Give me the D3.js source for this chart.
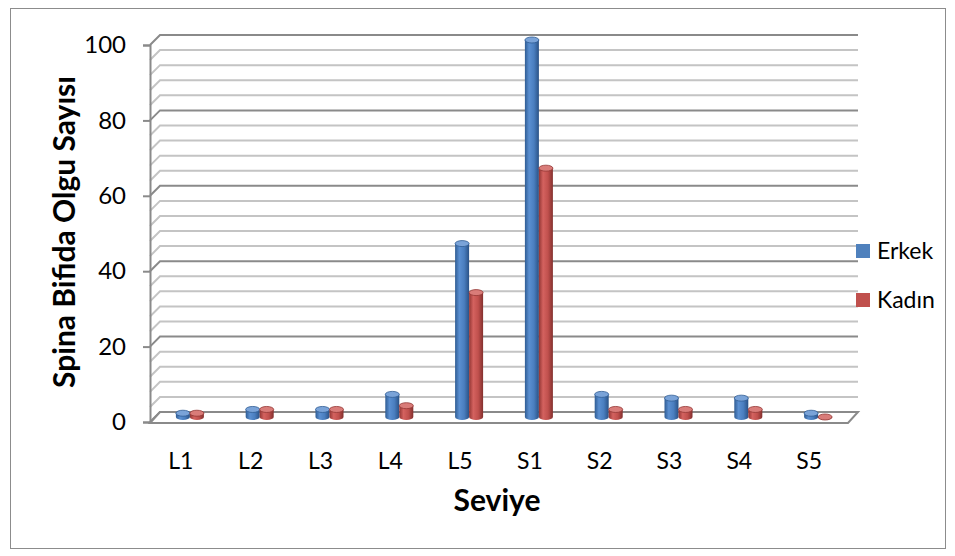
<!DOCTYPE html>
<html>
<head>
<meta charset="utf-8">
<script src="https://cdn.jsdelivr.net/npm/d3@7"></script>
<style>
  body { margin: 0; background: #fff; }
  text { font-family: Lato, "Open Sans", sans-serif; fill: #000; }
</style>
</head>
<body>
<div id="chart"></div>
<script>
// data
var levels = ["L1", "L2", "L3", "L4", "L5", "S1", "S2", "S3", "S4", "S5"];
var seriesNames = ["Erkek", "Kadın"];
var erkek = [1, 2, 2, 6, 46, 100, 6, 5, 5, 1];
var kadin = [1, 2, 2, 3, 33, 66, 2, 2, 2, 0];
var yTicks = [0, 20, 40, 60, 80, 100];

function Cylinders3D(id) {
    var self = this;
    self.sectionId = id;
    self.initVis();
}

Cylinders3D.prototype.initVis = function () {
    var self = this;

    self.svgWidth = 955;
    self.svgHeight = 556;
    self.depth = 10; // back wall offset (right / up)

    self.svg = d3.select(`#${self.sectionId}`)
        .append("svg")
        .attr("width", self.svgWidth)
        .attr("height", self.svgHeight);

    // outer border
    self.svg.append("rect")
        .attr("x", 10.5).attr("y", 8.5)
        .attr("width", 935).attr("height", 540)
        .attr("fill", "#fff")
        .attr("stroke", "#8c8c8c")
        .attr("stroke-width", 1);

    self.x = d3.scaleBand()
        .domain(levels)
        .range([150, 848]);

    self.y = d3.scaleLinear()
        .domain([0, 100])
        .range([422, 45]);

    var d = self.depth;

    // gradients for the cylinders
    var defs = self.svg.append("defs");
    var shades = {
        Erkek: ["#2f5c93", "#5a8fd1", "#4a7ebf", "#2a5286"],
        "Kadın": ["#933634", "#d4625f", "#c0504d", "#83302e"]
    };
    seriesNames.forEach(function (name, i) {
        var g = defs.append("linearGradient")
            .attr("id", "grad" + i)
            .attr("x1", "0%").attr("x2", "100%")
            .attr("y1", "0%").attr("y2", "0%");
        g.append("stop").attr("offset", "0%").attr("stop-color", shades[name][0]);
        g.append("stop").attr("offset", "30%").attr("stop-color", shades[name][1]);
        g.append("stop").attr("offset", "65%").attr("stop-color", shades[name][2]);
        g.append("stop").attr("offset", "100%").attr("stop-color", shades[name][3]);
    });

    // back wall gridlines every 4 units, darker on the major ticks
    var gridVals = d3.range(0, 101, 4);
    var grid = self.svg.append("g").attr("id", "grid");
    grid.selectAll("path")
        .data(gridVals)
        .join("path")
        .attr("fill", "none")
        .attr("stroke", function (v) { return v % 20 === 0 ? "#8a8a8a" : "#c4c4c4"; })
        .attr("stroke-width", 2)
        .attr("d", function (v) {
            var yf = self.y(v);
            return `M150,${yf} L${150 + d},${yf - d} L${self.x.range()[1] + d},${yf - d}`;
        });

    // floor
    var x0 = self.x.range()[0], x1 = self.x.range()[1], y0 = self.y(0);
    self.svg.append("path")
        .attr("fill", "#fff")
        .attr("stroke", "#8a8a8a")
        .attr("stroke-width", 2)
        .attr("d", `M${x0},${y0 + 1} L${x1},${y0 + 1} L${x1 + d},${y0 - d} L${x0 + d},${y0 - d} Z`);

    // y axis on the front edge
    self.svg.append("g")
        .attr("id", "yAxis")
        .attr("transform", "translate(150,0)")
        .call(d3.axisLeft(self.y).tickValues(yTicks).tickSize(7).tickPadding(17))
        .call(function (g) {
            g.selectAll("line, path").attr("stroke", "#8a8a8a").attr("stroke-width", 2);
            g.selectAll("text").attr("font-size", 24).attr("font-family", "Lato, sans-serif").attr("fill", "#000");
        });

    // category labels
    self.svg.append("g")
        .attr("id", "xAxis")
        .selectAll("text")
        .data(levels)
        .join("text")
        .attr("x", function (c) { return self.x(c) + self.x.bandwidth() / 2 - 4; })
        .attr("y", 469)
        .attr("text-anchor", "middle")
        .attr("font-size", 23)
        .text(function (c) { return c; });

    // cylinders, drawn at mid depth
    var barW = 14, ry = 3;
    var values = [erkek, kadin];
    var topFill = ["#7aa3d8", "#d97c79"];
    var rim = ["#2f5c93", "#933634"];

    var rows = [];
    levels.forEach(function (c, i) {
        values.forEach(function (vals, s) {
            rows.push({ cat: c, s: s, v: vals[i] });
        });
    });

    var bars = self.svg.append("g").attr("id", "bars")
        .selectAll("g")
        .data(rows)
        .join("g");

    bars.each(function (r) {
        var g = d3.select(this);
        var cx = self.x(r.cat) + self.x.bandwidth() / 2 + d / 2 + (r.s === 0 ? -barW / 2 : barW / 2);
        var yb = self.y(0) - d / 2;
        var yt = self.y(r.v) - d / 2;
        var left = cx - barW / 2;
        // body
        g.append("path")
            .attr("fill", "url(#grad" + r.s + ")")
            .attr("d", `M${left},${yt} L${left},${yb} A${barW / 2},${ry} 0 0 0 ${left + barW},${yb} L${left + barW},${yt} Z`);
        // top cap
        g.append("ellipse")
            .attr("cx", cx).attr("cy", yt)
            .attr("rx", barW / 2).attr("ry", ry)
            .attr("fill", topFill[r.s])
            .attr("stroke", rim[r.s])
            .attr("stroke-width", 0.8);
    });

    // legend
    var legend = self.svg.append("g").attr("id", "legend")
        .selectAll("g")
        .data(seriesNames)
        .join("g")
        .attr("transform", function (n, i) { return `translate(856,${244 + i * 49})`; });

    legend.append("rect")
        .attr("width", 14).attr("height", 14)
        .attr("fill", function (n, i) { return i === 0 ? "#4f81bd" : "#c0504d"; });

    legend.append("text")
        .attr("x", 21).attr("y", 15)
        .attr("font-size", 23)
        .text(function (n) { return n; });

    // axis titles
    self.svg.append("text")
        .attr("transform", "translate(75,232) rotate(-90)")
        .attr("text-anchor", "middle")
        .attr("font-size", 30)
        .attr("font-weight", "bold")
        .text("Spina Bifida Olgu Sayısı");

    self.svg.append("text")
        .attr("x", 497).attr("y", 511)
        .attr("text-anchor", "middle")
        .attr("font-size", 30)
        .attr("font-weight", "bold")
        .text("Seviye");
};

new Cylinders3D("chart");
</script>
</body>
</html>
